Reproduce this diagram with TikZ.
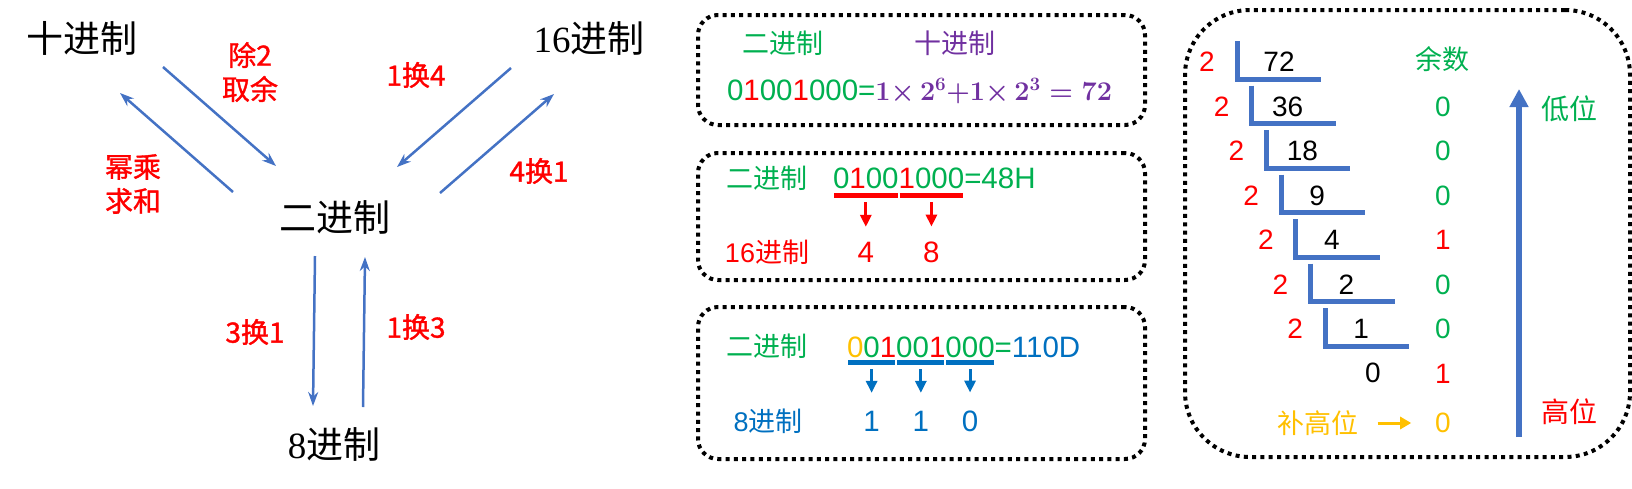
\RequirePackage{fix-cm}
\documentclass[tikz,border=0pt]{standalone}
\usepackage{fontspec}
\setmainfont{Liberation Sans}
\newfontfamily\cjk{Noto Sans CJK SC}
\newfontfamily\cjkmid[FakeBold=1.2]{Noto Sans CJK SC}
\newfontfamily\lat{Liberation Sans}
\newfontfamily\serifnum{Liberation Serif}
\usetikzlibrary{arrows.meta, positioning}
\definecolor{cgreen}{HTML}{00B050}
\definecolor{cpurple}{HTML}{7030A0}
\definecolor{cblue}{HTML}{0070C0}
\definecolor{corange}{HTML}{FFC000}
\definecolor{abblue}{HTML}{4472C4}
\newcommand{\setpx}[2]{\fontsize{#1}{#2}\selectfont}

\begin{document}
\begin{tikzpicture}[x=1pt, y=-1pt,
  base/.style={inner sep=0pt, outer sep=0pt},
  bigname/.style={base, font=\cjk\setpx{37}{40}},
  redlab/.style={base, text=red, font=\cjkmid\setpx{28}{34}, align=center},
  conv/.style={draw=abblue, line width=2.5pt, -{Stealth[length=14pt, width=10pt]}},
  dotbox/.style={draw, line width=4pt, dash pattern=on 4pt off 4.3pt,
    rounded corners=20pt},
  boxlab/.style={base, font=\cjk\setpx{27}{30}},
  digits/.style={base, font=\lat\setpx{29.5}{30}, anchor=base west},
  bnum/.style={base, font=\lat\setpx{29.5}{30}},
  bar/.style={line width=5pt},
  darr/.style={line width=3pt, -{Triangle[length=12pt, width=11pt]}},
  divline/.style={draw=abblue, line width=5pt},
  quot/.style={base, font=\lat\setpx{28}{30}},
  thinlab/.style={base, font=\cjk\setpx{28}{30}},
  orarr/.style={draw=corange, line width=3pt, -{Triangle[length=11pt, width=12pt]}},
  bigarr/.style={draw=abblue, line width=6pt, -{Triangle[length=18pt, width=18pt]}}
]
  \useasboundingbox (0,0) rectangle (1632,488);

  % number systems
  \node[bigname] (dec) at (82,38)  {十进制};
  \node[bigname] (hex) at (589,38) {{\serifnum 16}进制};
  \node[bigname] (bin) at (335,217) {二进制};
  \node[bigname] (oct) at (334,444) {{\serifnum 8}进制};

  \coordinate (db1) at (163,67);  \coordinate (db2) at (276,166);
  \coordinate (bd1) at (233,192); \coordinate (bd2) at (120,93);
  \coordinate (hb1) at (511,68);  \coordinate (hb2) at (397,167);
  \coordinate (bh1) at (440,193); \coordinate (bh2) at (554,94);
  \coordinate (bo1) at (315,256); \coordinate (bo2) at (313,406);
  \coordinate (ob1) at (363,407); \coordinate (ob2) at (365,257);

  \draw[conv] (db1) -- (db2);
  \draw[conv] (bd1) -- (bd2);
  \draw[conv] (hb1) -- (hb2);
  \draw[conv] (bh1) -- (bh2);
  \draw[conv] (bo1) -- (bo2);
  \draw[conv] (ob1) -- (ob2);

  \node[redlab] (l1) at (250,72)  {除2\\取余};
  \node[redlab] (l2) at (416,75)  {1换4};
  \node[redlab] (l3) at (133,184) {幂乘\\求和};
  \node[redlab] (l4) at (539,171) {4换1};
  \node[redlab] (l5) at (255,332) {3换1};
  \node[redlab] (l6) at (416,327) {1换3};

  % binary -> decimal
  \node[dotbox, minimum width=447pt, minimum height=110pt] (box1) at (921.5,70) {};
  \node[boxlab, text=cgreen]  (b1bin) at (783,43) {二进制};
  \node[boxlab, text=cpurple] (b1dec) at (955,43) {十进制};
  \node[digits, text=cgreen] (b1eq) at (727,100)
    {0\textcolor{red}{1}00\textcolor{red}{1}000=\textcolor{cpurple}{\setpx{27}{30}\boldmath$1{\times}\,2^{6}{+}1{\times}\,2^{3}=72$}};

  % binary -> hex
  \node[dotbox, minimum width=447pt, minimum height=127pt] (box2) at (921.5,216.5) {};
  \node[boxlab, text=cgreen] (b2bin) at (767,178) {二进制};
  \node[digits, text=cgreen] (g1) at (833,188) {0\textcolor{red}{1}00};
  \node[digits, text=cgreen, right=0pt of g1] (g2) {\textcolor{red}{1}000};
  \node[digits, text=cgreen, right=0pt of g2] (g3) {=48H};
  \node[boxlab, text=red] (b2hex) at (767,252) {{\lat 16}进制};
  \node[bnum, text=red] (h1) at (g1.south |- 0,252) {4};
  \node[bnum, text=red] (h2) at (g2.south |- 0,252) {8};
  \draw[bar, red] ([xshift=1pt, yshift=-7pt]g1.south west) -- ([xshift=-1pt, yshift=-7pt]g1.south east);
  \draw[bar, red] ([xshift=1pt, yshift=-7pt]g2.south west) -- ([xshift=-1pt, yshift=-7pt]g2.south east);
  \draw[darr, red, shorten <=14pt, shorten >=15pt] (g1) -- (h1);
  \draw[darr, red, shorten <=14pt, shorten >=15pt] (g2) -- (h2);

  % binary -> octal
  \node[dotbox, minimum width=447pt, minimum height=152pt] (box3) at (921.5,383) {};
  \node[boxlab, text=cgreen] (b3bin) at (767,346) {二进制};
  \node[digits, text=cgreen] (k1) at (847,357) {\textcolor{corange}{0}0\textcolor{red}{1}};
  \node[digits, text=cgreen, right=0pt of k1] (k2) {00\textcolor{red}{1}};
  \node[digits, text=cgreen, right=0pt of k2] (k3) {000};
  \node[digits, text=cgreen, right=0pt of k3] (k4) {=\textcolor{cblue}{110D}};
  \node[boxlab, text=cblue] (b3oct) at (768,421) {{\lat 8}进制};
  \foreach \k/\v in {1/1, 2/1, 3/0} {
    \node[bnum, text=cblue] (o\k) at (k\k.south |- 0,421) {\v};
    \draw[bar, cblue] ([xshift=1pt, yshift=-5pt]k\k.south west) -- ([xshift=-1pt, yshift=-5pt]k\k.south east);
    \draw[darr, cblue, shorten <=12pt, shorten >=18pt] (k\k) -- (o\k);
  }

  % decimal -> binary by division
  \node[dotbox, rounded corners=65pt, minimum width=445pt, minimum height=447pt] (box4) at (1407.5,233.5) {};
  \foreach \q/\dx [count=\i from 0] in {72/42,36/36,18/36,9/36,4/36,2/36,1/36} {
    \pgfmathsetmacro\lx{1237+14.7*\i}
    \pgfmathsetmacro\ly{62+44.5*\i}
    \node[quot, text=red] (d\i) at (\lx-30,\ly) {2};
    \node[quot] (q\i) at (\lx+\dx,\ly) {\q};
    \draw[divline] (\lx,\ly-21) |- (\lx+84,\ly+17);
  }
  \node[quot] (q7) at (1373,373) {0};

  \node[boxlab, text=cgreen] (rem) at (1442,59) {余数};
  \foreach \r/\c [count=\j] in {0/cgreen, 0/cgreen, 0/cgreen, 1/red, 0/cgreen, 0/cgreen, 1/red}
    \node[quot, text=\c] (r\j) at (1443,62+44.5*\j) {\r};
  \node[quot, text=corange] (r8) at (1443,423) {0};
  \node[boxlab, text=corange] (bu) at (1318,423) {补高位};
  \draw[orarr, shorten <=19pt, shorten >=24pt] (bu) -- (r8);

  \node[thinlab, text=cgreen] (low)  at (1569,109) {低位};
  \node[thinlab, text=red]    (high) at (1569,412) {高位};
  \coordinate (hb) at (1519,437);
  \coordinate (ht) at (1519,89);
  \draw[bigarr] (hb) -- (ht);
\end{tikzpicture}
\end{document}
